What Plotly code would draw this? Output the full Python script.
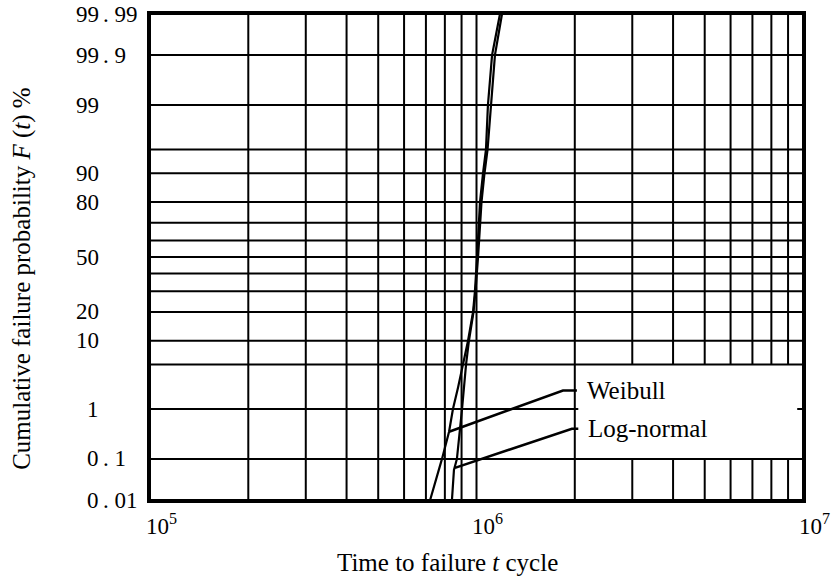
import math
from statistics import NormalDist
import plotly.graph_objects as go

# Cumulative failure probability F (%) against time to failure t (cycles)
weibull_F = [0.01, 0.1, 0.375, 1, 2.3, 5, 10, 20, 30, 50, 70, 80, 90, 95, 99, 99.9, 99.99]
weibull_t = [7.21e5, 7.84e5, 8.24e5, 8.47e5, 8.78e5, 9.09e5, 9.42e5, 9.76e5, 9.89e5,
             1.004e6, 1.018e6, 1.025e6, 1.047e6, 1.069e6, 1.084e6, 1.116e6, 1.180e6]
lognormal_F = [0.01, 0.056, 0.1, 0.375, 1, 5, 10, 20, 30, 50, 70, 80, 90, 95, 99, 99.9, 99.99]
lognormal_t = [8.41e5, 8.53e5, 8.71e5, 8.90e5, 9.03e5, 9.29e5, 9.48e5, 9.79e5, 9.93e5,
               1.011e6, 1.025e6, 1.036e6, 1.058e6, 1.081e6, 1.108e6, 1.139e6, 1.197e6]

# Leader lines running from each curve to its label
weibull_leader_t = [8.24e5, 1.84e6, 2.03e6]
weibull_leader_F = [0.375, 2.05, 2.05]
lognormal_leader_t = [8.59e5, 1.96e6, 2.05e6]
lognormal_leader_F = [0.0625, 0.43, 0.43]
curve_names = ["Weibull", "Log-normal"]

# Rulings of the log-normal probability paper
prob_grid = [0.01, 0.1, 1, 5, 10, 20, 30, 40, 50, 60, 70, 80, 90, 95, 99, 99.9, 99.99]
prob_labels = ["0.01", "0.1", "1", "10", "20", "50", "80", "90", "99", "99.9", "99.99"]
time_grid = [m * 10 ** e for e in (5, 6) for m in range(1, 10)] + [1e7]
time_label_vals = [1e5, 1e6, 1e7]
time_labels = ["10<sup>5</sup>", "10<sup>6</sup>", "10<sup>7</sup>"]

# Label area kept clear of rulings: t from 2e6 to 1e7, F from 0.1 % to 5 %
label_box_t = (2e6, 1e7)
label_box_F = (0.1, 5)

FONT = "Liberation Serif"
ND = NormalDist()


def z(p):
    """Probit of a percentage, used as the linear y coordinate."""
    return ND.inv_cdf(p / 100.0)


F_MIN, F_MAX = 0.01, 99.99
T_MIN, T_MAX = 1e5, 1e7

fig = go.Figure()

for name, ts, fs in [(curve_names[0], weibull_t, weibull_F),
                     (curve_names[1], lognormal_t, lognormal_F)]:
    fig.add_trace(go.Scatter(x=ts, y=[z(f) for f in fs], mode="lines",
                             line=dict(color="black", width=2.2), name=name,
                             showlegend=False, hoverinfo="skip"))

for ts, fs in [(weibull_leader_t, weibull_leader_F),
               (lognormal_leader_t, lognormal_leader_F)]:
    fig.add_trace(go.Scatter(x=ts, y=[z(f) for f in fs], mode="lines",
                             line=dict(color="black", width=2.6),
                             showlegend=False, hoverinfo="skip"))

shapes = []
grid_line = dict(color="black", width=2)

# vertical rulings, broken where the label area sits
for t in time_grid:
    if label_box_t[0] < t < label_box_t[1]:
        spans = [(F_MIN, label_box_F[0]), (label_box_F[1], F_MAX)]
    else:
        spans = [(F_MIN, F_MAX)]
    for f0, f1 in spans:
        shapes.append(dict(type="line", xref="x", yref="y", x0=t, x1=t,
                           y0=z(f0), y1=z(f1), line=grid_line, layer="below"))

# horizontal rulings
for f in prob_grid:
    if label_box_F[0] < f < label_box_F[1]:
        spans = [(T_MIN, label_box_t[0] * 1.025), (9.6e6, T_MAX)]
    else:
        spans = [(T_MIN, T_MAX)]
    for t0, t1 in spans:
        shapes.append(dict(type="line", xref="x", yref="y", x0=t0, x1=t1,
                           y0=z(f), y1=z(f), line=grid_line, layer="below"))

annotations = []
tick_font = dict(family=FONT, size=23, color="black")

# probability labels, aligned on the decimal point
for lab in prob_labels:
    whole, _, frac = lab.partition(".")
    yz = z(float(lab))
    annotations.append(dict(xref="paper", yref="y", x=0, y=yz, text=whole,
                            xanchor="right", yanchor="middle", xshift=-49,
                            showarrow=False, font=tick_font))
    if frac:
        annotations.append(dict(xref="paper", yref="y", x=0, y=yz, text=". " + frac,
                                xanchor="left", yanchor="middle", xshift=-49,
                                showarrow=False, font=tick_font))

# time labels (annotation x on a log axis is given in decades)
for tv, lab in zip(time_label_vals, time_labels):
    annotations.append(dict(xref="x", yref="paper", x=math.log10(tv), y=0, text=lab,
                            xanchor="center", yanchor="top", xshift=11, yshift=-8,
                            showarrow=False, font=tick_font))

# curve labels at the end of each leader
for name, ts, fs in [(curve_names[0], weibull_leader_t, weibull_leader_F),
                     (curve_names[1], lognormal_leader_t, lognormal_leader_F)]:
    annotations.append(dict(xref="x", yref="y", x=math.log10(ts[-1]), y=z(fs[-1]), text=name,
                            xanchor="left", yanchor="middle", xshift=8,
                            showarrow=False, font=dict(family=FONT, size=25, color="black")))

# axis titles
annotations.append(dict(xref="paper", yref="paper", x=0.455, y=0, yshift=-47,
                        text="Time to failure <i>t</i> cycle", xanchor="center", yanchor="top",
                        showarrow=False, font=dict(family=FONT, size=25, color="black")))
annotations.append(dict(xref="paper", yref="paper", x=0, y=0.455, xshift=-128,
                        text="Cumulative failure probability <i>F</i> (<i>t</i>) %",
                        textangle=-90, xanchor="center", yanchor="middle",
                        showarrow=False, font=dict(family=FONT, size=25, color="black")))

fig.update_layout(
    width=832, height=576,
    margin=dict(l=150, r=29, t=14, b=76),
    paper_bgcolor="white", plot_bgcolor="white",
    shapes=shapes, annotations=annotations,
    showlegend=False,
)
fig.update_xaxes(type="log", range=[5, 7], showgrid=False, zeroline=False,
                 showticklabels=False, ticks="", showline=True, mirror=True,
                 linecolor="black", linewidth=3)
fig.update_yaxes(range=[z(F_MIN), z(F_MAX)], showgrid=False, zeroline=False,
                 showticklabels=False, ticks="", showline=True, mirror=True,
                 linecolor="black", linewidth=3)

fig.write_html("out.html")
